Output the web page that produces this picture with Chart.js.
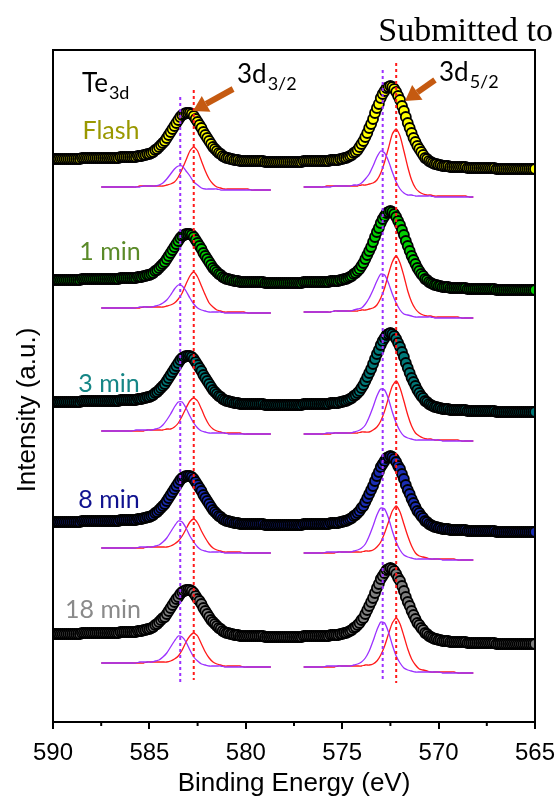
<!DOCTYPE html>
<html>
<head>
<meta charset="utf-8">
<script src="https://cdn.jsdelivr.net/npm/chart.js@4.4.1/dist/chart.umd.min.js"></script>
<style>
  html, body { margin: 0; padding: 0; background: #fff; }
  #wrap { width: 559px; height: 799px; }
</style>
</head>
<body>
<div id="wrap"><canvas id="xps" width="559" height="799"></canvas></div>
<script>

/* DATA */

// measured spectra: 590.0 -> 565.0 eV, 0.1 eV step
const energyStart = 590;
const energyStep = 0.1;

// fitted components: group A (3d3/2) and group B (3d5/2), 0.2 eV step
const fitStartA = 587.5;
const fitStartB = 577.0;
const fitStep = 0.2;

const sampleNames = ["Flash", "1 min", "3 min", "8 min", "18 min"];
const majorTicks = [590, 585, 580, 575, 570, 565];
const minorTicks = [587.5, 582.5, 577.5, 572.5, 567.5];

const flashData = [
  563,563,563,563,563,563,563,563,563,563,
  563,563,563,563,563,564,564,564,564,564,
  564,564,564,564,564,564,564,564,564,564,
  564,564,564,564,564,565,565,565,565,565,
  565,565,565,565,566,566,566,567,567,568,
  568,569,570,572,573,575,577,579,581,584,
  587,590,593,596,599,602,605,607,608,609,
  609,609,608,606,603,600,597,594,590,587,
  584,581,578,575,573,571,569,568,566,565,
  564,564,563,563,562,562,562,561,561,561,
  561,561,561,561,561,561,561,561,561,561,
  560,560,560,560,560,560,560,560,560,560,
  560,560,560,560,560,560,560,560,560,560,
  561,561,561,561,561,561,561,561,561,561,
  561,561,561,561,562,562,562,562,562,563,
  563,564,564,565,566,567,569,570,572,575,
  578,581,585,589,594,598,603,609,614,618,
  624,628,631,634,635,636,635,633,630,626,
  622,616,611,605,599,594,589,584,580,576,
  573,570,567,564,563,561,560,559,558,558,
  557,557,556,556,556,556,555,555,555,555,
  555,555,555,555,555,554,554,554,554,554,
  554,554,554,554,554,554,554,554,554,554,
  553,553,553,553,553,553,553,553,553,553,
  553,553,553,553,553,553,553,553,553,553,
  553
];

const min1Data = [
  442,442,442,442,442,442,442,442,442,442,
  442,442,442,442,442,443,443,443,443,443,
  443,443,443,443,443,443,443,443,443,443,
  443,443,443,443,443,444,444,444,444,444,
  444,444,444,444,445,445,445,446,446,447,
  447,448,449,451,452,454,456,458,460,463,
  466,469,472,475,478,481,484,486,487,488,
  488,488,487,485,482,479,476,473,469,466,
  463,460,457,454,452,450,448,447,445,444,
  443,443,442,442,441,441,441,440,440,440,
  440,440,440,440,440,440,440,440,440,440,
  439,439,439,439,439,439,439,439,439,439,
  439,439,439,439,439,439,439,439,439,439,
  440,440,440,440,440,440,440,440,440,440,
  440,440,440,440,441,441,441,441,441,442,
  442,443,443,444,445,446,448,449,451,453,
  456,459,463,467,471,475,480,485,490,494,
  499,503,506,509,510,511,510,508,505,501,
  497,492,487,481,476,471,466,462,458,454,
  451,448,446,443,442,440,439,438,437,437,
  436,436,435,435,435,435,434,434,434,434,
  434,434,434,434,434,433,433,433,433,433,
  433,433,433,433,433,433,433,433,433,433,
  432,432,432,432,432,432,432,432,432,432,
  432,432,432,432,432,432,432,432,432,432,
  432
];

const min3Data = [
  320,320,320,320,320,320,320,320,320,320,
  320,320,320,320,320,321,321,321,321,321,
  321,321,321,321,321,321,321,321,321,321,
  321,321,321,321,321,322,322,322,322,322,
  322,322,322,322,323,323,323,324,324,325,
  325,326,327,329,330,332,334,336,338,341,
  344,347,350,353,356,359,362,364,365,366,
  366,366,365,363,360,357,354,351,347,344,
  341,338,335,332,330,328,326,325,323,322,
  321,321,320,320,319,319,319,318,318,318,
  318,318,318,318,318,318,318,318,318,318,
  317,317,317,317,317,317,317,317,317,317,
  317,317,317,317,317,317,317,317,317,317,
  318,318,318,318,318,318,318,318,318,318,
  318,318,318,318,319,319,319,319,319,320,
  320,321,321,322,323,324,326,327,329,331,
  334,337,341,345,349,353,358,363,368,372,
  377,381,384,387,388,389,388,386,383,379,
  375,370,365,359,354,349,344,340,336,332,
  329,326,324,321,320,318,317,316,315,315,
  314,314,313,313,313,313,312,312,312,312,
  312,312,312,312,312,311,311,311,311,311,
  311,311,311,311,311,311,311,311,311,311,
  310,310,310,310,310,310,310,310,310,310,
  310,310,310,310,310,310,310,310,310,310,
  310
];

const min8Data = [
  200,200,200,200,200,200,200,200,200,200,
  200,200,200,200,200,201,201,201,201,201,
  201,201,201,201,201,201,201,201,201,201,
  201,201,201,201,201,202,202,202,202,202,
  202,202,202,202,203,203,203,204,204,205,
  205,206,207,209,210,212,214,216,218,221,
  224,227,230,233,236,239,242,244,245,246,
  246,246,245,243,240,237,234,231,227,224,
  221,218,215,212,210,208,206,205,203,202,
  201,201,200,200,199,199,199,198,198,198,
  198,198,198,198,198,198,198,198,198,198,
  197,197,197,197,197,197,197,197,197,197,
  197,197,197,197,197,197,197,197,197,197,
  198,198,198,198,198,198,198,198,198,198,
  198,198,198,198,199,199,199,199,199,200,
  200,201,201,202,203,204,206,207,209,211,
  214,216,220,224,228,232,236,241,246,250,
  255,258,261,264,265,266,265,263,260,256,
  253,248,243,237,232,228,223,219,215,211,
  209,206,204,201,200,198,197,196,195,195,
  194,194,193,193,193,193,192,192,192,192,
  192,192,192,192,192,191,191,191,191,191,
  191,191,191,191,191,191,191,191,191,191,
  190,190,190,190,190,190,190,190,190,190,
  190,190,190,190,190,190,190,190,190,190,
  190
];

const min18Data = [
  88,88,88,88,88,88,88,88,88,88,
  88,88,88,88,88,89,89,89,89,89,
  89,89,89,89,89,89,89,89,89,89,
  89,89,89,89,89,90,90,90,90,90,
  90,90,90,90,91,91,91,92,92,93,
  93,94,95,97,98,100,102,104,105,108,
  111,114,117,120,123,125,128,130,131,132,
  132,132,131,129,126,123,121,118,114,111,
  108,105,102,100,98,96,94,93,91,90,
  89,89,88,88,87,87,87,86,86,86,
  86,86,86,86,86,86,86,86,86,86,
  85,85,85,85,85,85,85,85,85,85,
  85,85,85,85,85,85,85,85,85,85,
  86,86,86,86,86,86,86,86,86,86,
  86,86,86,86,87,87,87,87,87,88,
  88,89,89,90,91,92,94,95,97,99,
  102,104,108,112,116,120,124,129,134,138,
  143,146,149,152,153,154,153,151,148,144,
  141,136,131,125,120,116,111,107,103,99,
  97,94,92,89,88,86,85,84,83,83,
  82,82,81,81,81,81,80,80,80,80,
  80,80,80,80,80,79,79,79,79,79,
  79,79,79,79,79,79,79,79,79,79,
  78,78,78,78,78,78,78,78,78,78,
  78,78,78,78,78,78,78,78,78,78,
  78
];

// fit components (purple = higher BE, red = lower BE)
const flashPurpleA = [535,535,535,535,535,535,535,535,535,535, 535,536,536,536,536,537,539,543,548,553, 556,556,551,546,540,537,534,533,533,533, 533,532,532,532,532,532,532,532,532,532, 532,532,532,532,532];
const flashRedA    = [535,535,535,535,535,535,535,535,535,535, 536,536,536,536,536,536,536,537,538,540, 545,553,562,571,575,571,561,551,543,538, 535,534,533,533,533,533,533,533,533,532, 532,532,532,532,532];
const flashPurpleB = [535,535,535,535,535,535,535,535,536,536, 536,536,536,537,537,539,543,548,556,565, 571,569,561,550,540,533,529,527,527,526, 526,526,526,526,525,525,525,525,525,525, 525,525,525,525,525];
const flashRedB    = [535,535,535,535,535,535,536,536,536,536, 536,536,536,536,536,537,537,538,539,542, 549,560,574,588,593,586,571,555,542,534, 530,528,527,527,526,526,526,526,526,526, 526,526,526,525,525];

const min1PurpleA = [414,414,414,414,414,414,414,414,414,414, 415,415,415,415,416,417,419,422,427,433, 437,436,431,424,418,414,412,411,410,410, 410,410,409,409,409,409,409,409,409,409, 409,409,409,409,409];
const min1RedA    = [414,414,414,414,414,414,414,414,414,414, 414,415,415,415,415,415,415,416,417,419, 423,429,438,446,450,445,436,427,419,415, 412,411,410,410,410,410,410,410,409,409, 409,409,409,409,409];
const min1PurpleB = [410,410,410,410,410,410,410,410,411,411, 411,411,411,412,413,414,418,424,432,441, 448,447,439,428,419,412,408,407,406,405, 405,405,405,405,404,404,404,404,404,404, 404,404,404,404,404];
const min1RedB    = [410,410,410,410,410,410,410,410,411,411, 411,411,411,411,411,412,412,413,414,417, 424,434,448,460,466,459,446,431,420,413, 409,407,406,406,405,405,405,405,405,405, 405,404,404,404,404];

const min3PurpleA = [291,291,291,291,291,291,291,291,291,292, 292,292,292,292,293,294,297,302,308,315, 320,320,314,306,299,294,291,290,289,289, 289,289,289,288,288,288,288,288,288,288, 288,288,288,288,288];
const min3RedA    = [291,291,291,291,291,291,291,291,291,291, 291,291,292,292,292,292,292,293,293,295, 299,306,314,321,324,321,313,304,297,293, 291,290,289,289,289,289,289,288,288,288, 288,288,288,288,288];
const min3PurpleB = [288,288,288,288,288,288,289,289,289,289, 289,289,289,290,291,293,297,305,315,326, 333,332,323,310,299,291,286,284,283,282, 282,282,282,282,282,282,281,281,281,281, 281,281,281,281,281];
const min3RedB    = [288,288,288,288,288,288,288,288,289,289, 289,289,289,289,289,290,290,290,292,295, 301,311,324,336,341,334,321,307,296,289, 286,284,283,283,282,282,282,282,282,282, 282,281,281,281,281];

const min8PurpleA = [174,174,174,174,174,174,174,174,174,174, 175,175,175,175,176,177,180,184,190,196, 201,200,194,186,180,175,172,171,170,170, 170,170,169,169,169,169,169,169,169,169, 169,169,169,169,169];
const min8RedA    = [174,174,174,174,174,174,174,174,174,174, 174,174,175,175,175,175,175,175,176,178, 181,186,193,200,203,199,191,184,178,174, 172,171,170,170,170,170,170,169,169,169, 169,169,169,169,169];
const min8PurpleB = [169,169,169,169,169,169,170,170,170,170, 170,170,170,171,172,174,178,186,196,207, 214,213,204,191,180,172,167,165,164,163, 163,163,163,163,163,163,162,162,162,162, 162,162,162,162,162];
const min8RedB    = [169,169,169,169,169,169,169,169,169,170, 170,170,170,170,170,170,171,171,172,175, 180,189,200,211,216,210,198,186,176,169, 166,165,164,163,163,163,163,163,163,163, 162,162,162,162,162];

const min18PurpleA = [59,59,59,59,59,59,59,59,59,59, 60,60,60,60,61,62,65,69,75,81, 86,85,80,72,65,61,58,57,56,56, 56,56,55,55,55,55,55,55,55,55, 55,55,55,55,55];
const min18RedA    = [59,59,59,59,59,59,59,59,59,59, 59,59,60,60,60,60,60,60,61,63, 66,72,80,86,89,86,78,70,64,60, 58,57,56,56,56,56,56,55,55,55, 55,55,55,55,55];
const min18PurpleB = [55,55,55,55,55,55,56,56,56,56, 56,56,56,57,58,60,64,71,81,92, 100,99,90,77,66,59,54,52,51,50, 50,50,50,50,50,50,49,49,49,49, 49,49,49,49,49];
const min18RedB    = [55,55,55,55,55,55,55,55,55,56, 56,56,56,56,56,56,57,57,58,61, 67,76,88,99,104,98,86,73,63,57, 53,52,51,50,50,50,50,50,50,50, 49,49,49,49,49];

// dashed guide lines at the component positions
const guideEnergies = [583.4, 582.7, 572.9, 572.2];
const guideTops = [625, 632, 652, 659];
const guideBottoms = [40, 42, 40, 39];

// arrows: tail and tip as [energy, intensity]
const arrowTails = [[580.66, 633], [570.19, 642]];
const arrowTips = [[582.74, 611], [571.74, 621]];

/* STYLE */

const markerFills = ["#ffff00", "#00d000", "#007878", "#1a2db4", "#808080"];
const nameColors = ["#9a9800", "#5a8a28", "#168686", "#10128f", "#8a8a8a"];
const nameSpots = [[111, 139], [110, 260], [109, 392], [109, 508], [103, 618]];
const purple = "#9b30ff";
const red = "#ff1a1a";
const arrowColor = "#c55a11";

/* BUILD */

function grid(start, step, count){
  const out = [];
  for(let i = 0; i < count; i++){
    out.push(Math.round((start - i * step) * 100) / 100);
  }
  return out;
}

function points(xs, ys){
  return ys.map((v, i) => ({ x: xs[i], y: v }));
}

const energies = grid(energyStart, energyStep, flashData.length);
const energiesA = grid(fitStartA, fitStep, flashPurpleA.length);
const energiesB = grid(fitStartB, fitStep, flashPurpleB.length);

const spectra = [flashData, min1Data, min3Data, min8Data, min18Data];

const fits = [
  [flashPurpleA, flashRedA, flashPurpleB, flashRedB],
  [min1PurpleA, min1RedA, min1PurpleB, min1RedB],
  [min3PurpleA, min3RedA, min3PurpleB, min3RedB],
  [min8PurpleA, min8RedA, min8PurpleB, min8RedB],
  [min18PurpleA, min18RedA, min18PurpleB, min18RedB]
];

const datasets = [];

guideEnergies.forEach((e, i) => {
  datasets.push({
    type: "line",
    data: [{ x: e, y: guideTops[i] }, { x: e, y: guideBottoms[i] }],
    borderColor: i % 2 === 0 ? purple : red,
    borderWidth: 2,
    borderDash: [3, 3],
    pointRadius: 0,
    order: 0
  });
});

fits.forEach(set => {
  set.forEach((vals, j) => {
    datasets.push({
      type: "line",
      data: points(j < 2 ? energiesA : energiesB, vals),
      borderColor: j % 2 === 0 ? purple : red,
      borderWidth: 1.3,
      pointRadius: 0,
      tension: 0.2,
      order: 1
    });
  });
});

spectra.forEach((vals, s) => {
  datasets.push({
    type: "scatter",
    label: sampleNames[s],
    data: points(energies, vals),
    showLine: false,
    pointRadius: 5,
    pointBorderWidth: 1.8,
    pointBackgroundColor: markerFills[s],
    pointBorderColor: "#000",
    order: 2
  });
});

/* DRAW HELPERS */

function drawArrow(ctx, x1, y1, x2, y2){
  const ang = Math.atan2(y2 - y1, x2 - x1);
  const headLen = 15;
  const headHalf = 9;
  const bx = x2 - headLen * Math.cos(ang);
  const by = y2 - headLen * Math.sin(ang);
  ctx.strokeStyle = arrowColor;
  ctx.fillStyle = arrowColor;
  ctx.lineWidth = 6;
  ctx.lineCap = "butt";
  ctx.beginPath();
  ctx.moveTo(x1, y1);
  ctx.lineTo(bx, by);
  ctx.stroke();
  ctx.beginPath();
  ctx.moveTo(x2, y2);
  ctx.lineTo(bx + headHalf * Math.sin(ang), by - headHalf * Math.cos(ang));
  ctx.lineTo(bx - headHalf * Math.sin(ang), by + headHalf * Math.cos(ang));
  ctx.closePath();
  ctx.fill();
}

function drawSub(ctx, main, sub, x, y, color){
  ctx.fillStyle = color;
  ctx.textAlign = "left";
  ctx.textBaseline = "alphabetic";
  ctx.font = "26px Lato";
  ctx.fillText(main, x, y);
  const w = ctx.measureText(main).width;
  ctx.font = "18px Lato";
  ctx.fillText(sub, x + w + 1, y + 7);
}

const overlay = {
  id: "overlay",
  afterDraw(chart){
    const ctx = chart.ctx;
    const a = chart.chartArea;
    const xs = chart.scales.x;
    const ys = chart.scales.y;

    ctx.save();

    // frame
    ctx.strokeStyle = "#000";
    ctx.lineWidth = 2;
    ctx.strokeRect(a.left, a.top, a.right - a.left, a.bottom - a.top);

    // minor ticks
    minorTicks.forEach(v => {
      const px = xs.getPixelForValue(v);
      ctx.beginPath();
      ctx.moveTo(px, a.bottom);
      ctx.lineTo(px, a.bottom + 4);
      ctx.stroke();
    });

    // arrows
    arrowTails.forEach((t, i) => {
      drawArrow(
        ctx,
        xs.getPixelForValue(t[0]), ys.getPixelForValue(t[1]),
        xs.getPixelForValue(arrowTips[i][0]), ys.getPixelForValue(arrowTips[i][1])
      );
    });

    // peak labels
    drawSub(ctx, "Te", "3d", 82, 92, "#000");
    drawSub(ctx, "3d", "3/2", 237, 83, "#000");
    drawSub(ctx, "3d", "5/2", 439, 81, "#000");

    // sample names
    ctx.font = "25px Lato";
    ctx.textAlign = "center";
    ctx.textBaseline = "alphabetic";
    sampleNames.forEach((n, i) => {
      ctx.fillStyle = nameColors[i];
      ctx.fillText(n, nameSpots[i][0], nameSpots[i][1]);
    });

    // axis titles
    ctx.fillStyle = "#000";
    ctx.font = "26px 'Liberation Sans'";
    ctx.textAlign = "center";
    ctx.fillText("Binding Energy (eV)", (a.left + a.right) / 2, 791);

    ctx.save();
    ctx.translate(35, 410);
    ctx.rotate(-Math.PI / 2);
    ctx.fillText("Intensity (a.u.)", 0, 0);
    ctx.restore();

    // header
    ctx.font = "34px 'Liberation Serif'";
    ctx.textAlign = "right";
    ctx.fillText("Submitted to", 553, 41);

    ctx.restore();
  }
};

/* CHART */

new Chart(document.getElementById("xps"), {
  type: "scatter",
  data: { datasets },
  options: {
    responsive: false,
    animation: false,
    devicePixelRatio: 1,
    layout: { padding: { left: 53, top: 50, right: 24, bottom: 0 } },
    plugins: {
      legend: { display: false },
      tooltip: { enabled: false }
    },
    scales: {
      x: {
        type: "linear",
        reverse: true,
        min: 565,
        max: 590,
        afterBuildTicks: s => { s.ticks = majorTicks.map(v => ({ value: v })); },
        afterFit: s => {
          s.height = 77;
          s.paddingLeft = 0;
          s.paddingRight = 0;
        },
        ticks: {
          color: "#000",
          padding: 10,
          maxRotation: 0,
          autoSkip: false,
          font: { family: "'Liberation Sans'", size: 24 }
        },
        grid: {
          drawOnChartArea: false,
          drawTicks: true,
          tickLength: 7,
          color: "#000",
          lineWidth: 2
        },
        border: { display: true, color: "#000", width: 2 }
      },
      y: { display: false, min: 0, max: 672 }
    }
  },
  plugins: [overlay]
});

</script>
</body>
</html>
